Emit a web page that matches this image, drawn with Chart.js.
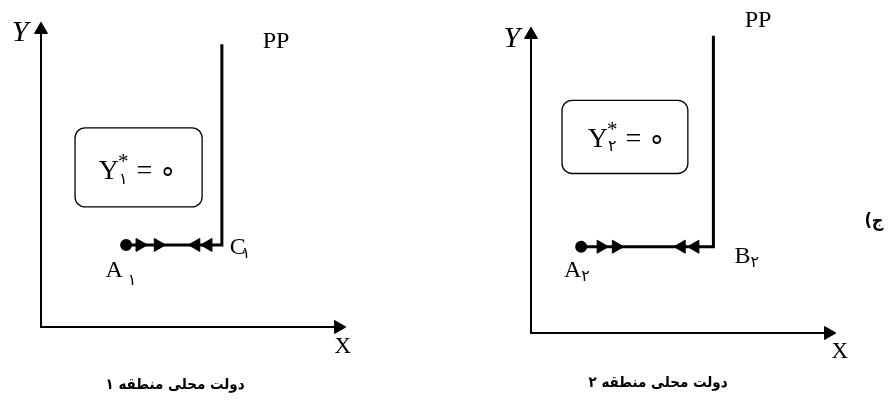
<!DOCTYPE html>
<html>
<head>
<meta charset="utf-8">
<script src="https://cdn.jsdelivr.net/npm/chart.js@4.4.0/dist/chart.umd.min.js"></script>
<style>
  html, body { margin: 0; padding: 0; background: #fff; }
  .panel { position: absolute; top: 0; width: 445px; height: 401px; }
</style>
</head>
<body>
<div class="panel" style="left:0"><canvas id="region1" width="445" height="401"></canvas></div>
<div class="panel" style="left:445px"><canvas id="region2" width="445" height="401"></canvas></div>
<script>
// both panels share a 0..10 axis range
var axisMax = 10;

// panel 1: A1 -> C1, then PP goes straight up
var pp1X = 5.95, pp1Bottom = 2.7, pp1Top = 9.3, a1X = 2.8;
var rightArrows1 = [3.25, 3.85];
var leftArrows1 = [5.1, 5.5];

// panel 2: A2 -> B2, then PP goes straight up
var pp2X = 6.0, pp2Bottom = 2.83, pp2Top = 9.75, a2X = 1.65;
var rightArrows2 = [2.3, 2.8];
var leftArrows2 = [4.95, 5.4];

var serif = '"Liberation Serif", "Times New Roman", serif';
var persian = '"DejaVu Sans Condensed", "DejaVu Sans", sans-serif';

function buildDatasets(ppX, bottom, top, aX, rightArrows, leftArrows) {
    var flow = [], rot = [];
    rightArrows.forEach(function (x) { flow.push({x: x, y: bottom}); rot.push(90); });
    leftArrows.forEach(function (x) { flow.push({x: x, y: bottom}); rot.push(270); });
    return [
        {   // axes
            data: [{x: 0, y: axisMax}, {x: 0, y: 0}, {x: axisMax, y: 0}],
            showLine: true, borderColor: '#000', borderWidth: 2, pointRadius: 0, clip: false
        },
        {   // axis arrow heads
            data: [{x: 0, y: axisMax - 0.22}, {x: axisMax - 0.22, y: 0}],
            pointStyle: 'triangle', rotation: [0, 90], pointRadius: 7.5,
            backgroundColor: '#000', borderColor: '#000', borderWidth: 1, clip: false
        },
        {   // PP path
            data: [{x: aX, y: bottom}, {x: ppX, y: bottom}, {x: ppX, y: top}],
            showLine: true, borderColor: '#000', borderWidth: 3,
            pointRadius: [4.5, 0, 0], backgroundColor: '#000', borderJoinStyle: 'miter', clip: false
        },
        {   // movement arrows
            data: flow, pointStyle: 'triangle', rotation: rot, pointRadius: 7.5,
            backgroundColor: '#000', borderColor: '#000', borderWidth: 1, clip: false
        }
    ];
}

// draws main text with optional superscript / subscript
function drawLabel(ctx, px, py, lab) {
    ctx.save();
    ctx.fillStyle = '#000';
    ctx.textBaseline = 'middle';
    ctx.font = lab.font;
    var w = ctx.measureText(lab.text).width;
    var subW = 0, tailW = 0;
    var small = lab.small || '16px "DejaVu Sans", sans-serif';
    if (lab.sub) { ctx.font = small; subW = ctx.measureText(lab.sub).width + (lab.subGap || 0); }
    if (lab.sup) { ctx.font = lab.supFont || lab.font; subW = Math.max(subW, ctx.measureText(lab.sup).width); }
    if (lab.tail) { ctx.font = lab.font; tailW = ctx.measureText(lab.tail).width; }
    var x0 = px - (w + subW + tailW) / 2;
    ctx.textAlign = 'left';
    ctx.font = lab.font;
    ctx.fillText(lab.text, x0, py);
    if (lab.sup) { ctx.font = lab.supFont || lab.font; ctx.fillText(lab.sup, x0 + w - 1, py - 9); }
    if (lab.sub) { ctx.font = small; ctx.fillText(lab.sub, x0 + w + (lab.subGap || 0), py + (lab.subDrop || 8)); }
    if (lab.tail) { ctx.font = lab.font; ctx.fillText(lab.tail, x0 + w + subW, py); }
    ctx.restore();
}

function roundRect(ctx, x, y, w, h, r) {
    ctx.beginPath();
    ctx.moveTo(x + r, y);
    ctx.arcTo(x + w, y, x + w, y + h, r);
    ctx.arcTo(x + w, y + h, x, y + h, r);
    ctx.arcTo(x, y + h, x, y, r);
    ctx.arcTo(x, y, x + w, y, r);
    ctx.closePath();
}

function annotations(box, labels) {
    return {
        id: 'annotations',
        afterDatasetsDraw: function (chart) {
            var ctx = chart.ctx, xs = chart.scales.x, ys = chart.scales.y;
            var bx = xs.getPixelForValue(box.x0), by = ys.getPixelForValue(box.y1);
            var bw = xs.getPixelForValue(box.x1) - bx, bh = ys.getPixelForValue(box.y0) - by;
            ctx.save();
            ctx.strokeStyle = '#000';
            ctx.lineWidth = 1.3;
            roundRect(ctx, bx, by, bw, bh, 10);
            ctx.stroke();
            ctx.restore();
            labels.forEach(function (lab) {
                var px = xs.getPixelForValue(lab.x), py = ys.getPixelForValue(lab.y);
                if (lab.rtl) {
                    ctx.save();
                    ctx.font = lab.font;
                    ctx.fillStyle = '#000';
                    ctx.direction = 'rtl';
                    ctx.textAlign = 'center';
                    ctx.textBaseline = 'middle';
                    ctx.fillText(lab.text, px, py);
                    ctx.restore();
                } else {
                    drawLabel(ctx, px, py, lab);
                }
            });
        }
    };
}

function makeChart(id, datasets, padding, plugin) {
    return new Chart(document.getElementById(id).getContext('2d'), {
        type: 'scatter',
        data: { datasets: datasets },
        options: {
            responsive: false,
            animation: false,
            layout: { padding: padding },
            plugins: { legend: { display: false }, tooltip: { enabled: false } },
            scales: {
                x: { type: 'linear', min: 0, max: axisMax, display: false },
                y: { type: 'linear', min: 0, max: axisMax, display: false }
            }
        },
        plugins: [plugin]
    });
}

var labels1 = [
    {text: 'Y', x: -0.69, y: 9.67, font: 'italic 30px ' + serif},
    {text: 'X', x: 9.93, y: -0.66, font: '23px ' + serif},
    {text: 'PP', x: 7.73, y: 9.4, font: '24px ' + serif},
    {text: 'C', x: 6.55, y: 2.6, font: '24px ' + serif, sub: '۱', subGap: -4, subDrop: 6},
    {text: 'A', x: 2.63, y: 1.85, font: '24px ' + serif, sub: '۱', subGap: 5, subDrop: 10},
    {text: 'Y', x: 3.19, y: 5.1, font: '28px ' + serif, sup: '*', supFont: '21px ' + serif, sub: '۱', tail: ' = ∘'},
    {text: 'دولت محلی منطقه ۱', x: 4.41, y: -1.9, font: 'bold 15px ' + persian, rtl: true}
];

var labels2 = [
    {text: 'Y', x: -0.63, y: 9.64, font: 'italic 30px ' + serif},
    {text: 'X', x: 10.16, y: -0.63, font: '23px ' + serif},
    {text: 'PP', x: 7.47, y: 10.23, font: '24px ' + serif},
    {text: 'B', x: 7.1, y: 2.5, font: '24px ' + serif, sub: '۲', subDrop: 6},
    {text: 'A', x: 1.51, y: 2.05, font: '24px ' + serif, sub: '۲', subDrop: 6},
    {text: 'Y', x: 3.16, y: 6.35, font: '28px ' + serif, sup: '*', supFont: '21px ' + serif, sub: '۲', tail: ' = ∘'},
    {text: 'دولت محلی منطقه ۲', x: 4.18, y: -1.64, font: 'bold 15px ' + persian, rtl: true},
    {text: 'ج)', x: 11.28, y: 3.65, font: 'bold 18px ' + persian, rtl: true}
];

var chart1 = makeChart('region1',
    buildDatasets(pp1X, pp1Bottom, pp1Top, a1X, rightArrows1, leftArrows1),
    {left: 41, right: 100, top: 23, bottom: 74},
    annotations({x0: 1.12, x1: 5.3, y0: 3.95, y1: 6.55}, labels1));

var chart2 = makeChart('region2',
    buildDatasets(pp2X, pp2Bottom, pp2Top, a2X, rightArrows2, leftArrows2),
    {left: 86, right: 55, top: 28, bottom: 68},
    annotations({x0: 1.02, x1: 5.16, y0: 5.23, y1: 7.63}, labels2));
</script>
</body>
</html>
